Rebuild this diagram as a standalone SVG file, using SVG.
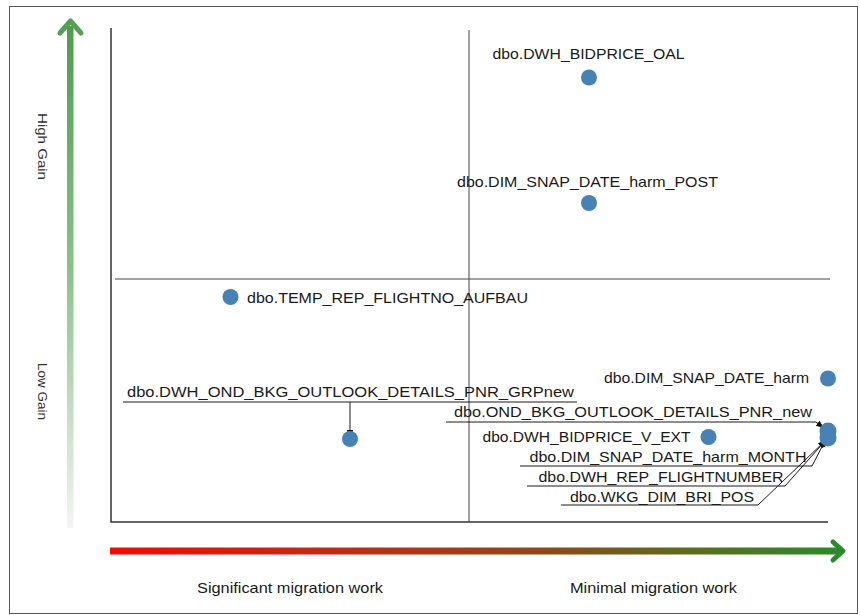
<svg xmlns="http://www.w3.org/2000/svg" width="860" height="615" viewBox="0 0 860 615">
<defs>
<linearGradient id="gv" x1="0" y1="0" x2="0" y2="1">
<stop offset="0" stop-color="#4e9c4e"/>
<stop offset="0.5" stop-color="#8cc48c"/>
<stop offset="1" stop-color="#f4f4f4"/>
</linearGradient>
<linearGradient id="gh" gradientUnits="userSpaceOnUse" x1="110" y1="0" x2="845" y2="0">
<stop offset="0" stop-color="#f20a0a"/>
<stop offset="0.35" stop-color="#b8301a"/>
<stop offset="0.6" stop-color="#8a4a1c"/>
<stop offset="0.78" stop-color="#5f6a20"/>
<stop offset="1" stop-color="#2b8a2b"/>
</linearGradient>
<marker id="ah" markerUnits="userSpaceOnUse" markerWidth="8" markerHeight="8" viewBox="0 0 8 8" refX="8" refY="4" orient="auto">
<path d="M0,0.8 L8,4 L0,7.2 Z" fill="#111"/>
</marker>
</defs>
<style>
.frame{fill:#fff;stroke:#555;stroke-width:1}
.axis{stroke:#333;stroke-width:1.5;fill:none}
.div{stroke:#444;stroke-width:1;fill:none}
.dot{fill:#4682b4}
.lbl{font-family:"Liberation Sans",Arial,sans-serif;font-size:14.5px;fill:#1a1a1a}
.ax{font-family:"Liberation Sans",Arial,sans-serif;font-size:13px;fill:#333}
.cn{stroke:#1a1a1a;stroke-width:1;fill:none}
</style>
<rect class="frame" x="9.5" y="6.5" width="848" height="607"/>
<g id="axes">
<path class="axis" d="M111,28 V522 H828"/>
<path class="div" d="M469,30 V522"/>
<path class="div" d="M115,279 H830"/>
</g>
<g id="gain-arrow">
<rect x="67" y="26" width="6.5" height="502" fill="url(#gv)"/>
<polyline points="60,33 70.5,21 81,33" fill="none" stroke="#55a055" stroke-width="5" stroke-linecap="round" stroke-linejoin="round"/>
</g>
<g id="work-arrow">
<rect x="110" y="547.5" width="730" height="7" fill="url(#gh)"/>
<polyline points="833,542 843,551 833,560" fill="none" stroke="#2b8a2b" stroke-width="5" stroke-linecap="round" stroke-linejoin="round"/>
</g>
<g id="axis-labels">
<text class="ax" transform="translate(38,113) rotate(90)" textLength="67" lengthAdjust="spacingAndGlyphs">High Gain</text>
<text class="ax" transform="translate(38,363) rotate(90)" textLength="57" lengthAdjust="spacingAndGlyphs">Low Gain</text>
<text class="lbl" x="197" y="593" textLength="186" lengthAdjust="spacingAndGlyphs">Significant migration work</text>
<text class="lbl" x="570" y="593" textLength="167" lengthAdjust="spacingAndGlyphs">Minimal migration work</text>
</g>
<g id="connectors">
<path class="cn" d="M123,402 H577"/>
<path class="cn" d="M350,402 V438" marker-end="url(#ah)"/>
<path class="cn" d="M446,422 H816 L824,428" marker-end="url(#ah)"/>
<path class="cn" d="M520,466 H812 L826,439" marker-end="url(#ah)"/>
<path class="cn" d="M527,486 H785 L826,440" marker-end="url(#ah)"/>
<path class="cn" d="M561,505 H758 L826,440" marker-end="url(#ah)"/>
</g>
<g id="n-bidprice-oal">
<circle class="dot" cx="589" cy="77.5" r="8"/>
<text class="lbl" x="492.5" y="59" textLength="192" lengthAdjust="spacingAndGlyphs">dbo.DWH_BIDPRICE_OAL</text>
</g>
<g id="n-snap-post">
<circle class="dot" cx="589" cy="203" r="8"/>
<text class="lbl" x="457" y="186.5" textLength="261" lengthAdjust="spacingAndGlyphs">dbo.DIM_SNAP_DATE_harm_POST</text>
</g>
<g id="n-temp-rep">
<circle class="dot" cx="230.5" cy="297" r="8"/>
<text class="lbl" x="247" y="303" textLength="281" lengthAdjust="spacingAndGlyphs">dbo.TEMP_REP_FLIGHTNO_AUFBAU</text>
</g>
<g id="n-ond-grpnew">
<circle class="dot" cx="350" cy="439" r="8"/>
<text class="lbl" x="127" y="397" textLength="447" lengthAdjust="spacingAndGlyphs">dbo.DWH_OND_BKG_OUTLOOK_DETAILS_PNR_GRPnew</text>
</g>
<g id="n-snap-harm">
<circle class="dot" cx="828" cy="378.5" r="8"/>
<text class="lbl" x="604" y="383" textLength="205" lengthAdjust="spacingAndGlyphs">dbo.DIM_SNAP_DATE_harm</text>
</g>
<g id="n-bidprice-v-ext">
<circle class="dot" cx="708.5" cy="437" r="8"/>
<text class="lbl" x="482.5" y="442" textLength="208" lengthAdjust="spacingAndGlyphs">dbo.DWH_BIDPRICE_V_EXT</text>
</g>
<g id="n-cluster">
<circle class="dot" cx="828" cy="431" r="8.5"/>
<circle class="dot" cx="828" cy="438" r="8.5"/>
<text class="lbl" x="454" y="417" textLength="358" lengthAdjust="spacingAndGlyphs">dbo.OND_BKG_OUTLOOK_DETAILS_PNR_new</text>
<text class="lbl" x="529.5" y="462" textLength="277" lengthAdjust="spacingAndGlyphs">dbo.DIM_SNAP_DATE_harm_MONTH</text>
<text class="lbl" x="538.5" y="481.5" textLength="245" lengthAdjust="spacingAndGlyphs">dbo.DWH_REP_FLIGHTNUMBER</text>
<text class="lbl" x="570" y="501.5" textLength="184" lengthAdjust="spacingAndGlyphs">dbo.WKG_DIM_BRI_POS</text>
</g>
</svg>
